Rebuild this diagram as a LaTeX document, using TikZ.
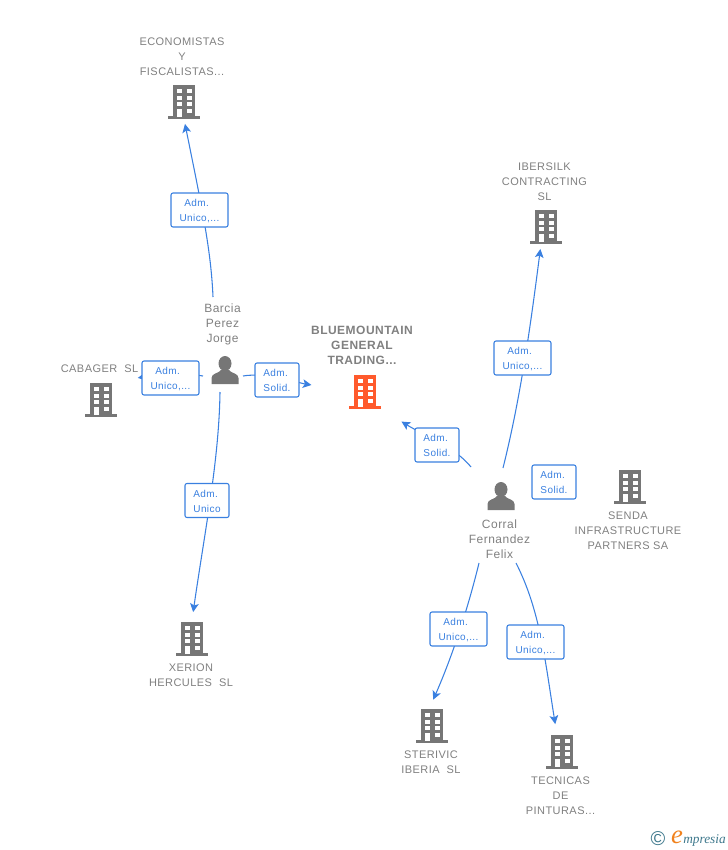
\documentclass[tikz,border=0pt]{standalone}
\usepackage{fontspec}
\setmainfont{Liberation Sans}
\newfontfamily\spacedfont[LetterSpace=4]{Liberation Sans}
\newfontfamily\logofont{Liberation Serif}
\usetikzlibrary{arrows.meta}
\definecolor{linkblue}{RGB}{58,128,224}
\definecolor{txtgray}{RGB}{128,128,128}
\definecolor{icongray}{RGB}{118,118,118}
\definecolor{iconorange}{RGB}{255,90,44}
\definecolor{logoteal}{RGB}{62,120,140}
\definecolor{logoorange}{RGB}{240,130,30}

% inside a path picture y points up again
\newcommand{\buildingicon}[1]{%
    \begin{scope}[shift={(path picture bounding box.center)}]
    \fill [#1] (-11,16) rectangle (11,-16);
    \fill [#1] (-16,-15) rectangle (16,-18);
    \foreach \wy in {11.7,5.3,-1.3} {
        \fill [white] (-7.3,\wy) rectangle (-1.7,\wy-4);
        \fill [white] (2.7,\wy) rectangle (7.7,\wy-4);
    }
    \fill [white] (2.7,-7.7) rectangle (7.7,-11.7);
    \fill [white] (-7.3,-7.7) rectangle (-1.7,-16);
    \end{scope}
}
\newcommand{\personicon}{%
    \begin{scope}[shift={(path picture bounding box.center)}]
    \fill [icongray] (0,6.5) ellipse (6.5 and 7.5);
    \fill [icongray] (-13.5,-14) -- (-13.5,-8) .. controls (-13.5,-3) and (-6,-3.5) .. (-4,0) -- (4,0) .. controls (6,-3.5) and (13.5,-3) .. (13.5,-8) -- (13.5,-14) -- cycle;
    \end{scope}
}
\newcommand{\admtxt}{\rule{0pt}{6.8pt}Adm.\hphantom{.}}
\newcommand{\admwide}{\rule{0pt}{6.8pt}Adm.\hphantom{..}}

\tikzset{
    building/.style={minimum width=32*0.75pt, minimum height=36*0.75pt, inner sep=0pt, outer sep=0pt, path picture={\buildingicon{icongray}}},
    mainbuilding/.style={building, path picture={\buildingicon{iconorange}}},
    person/.style={minimum width=28*0.75pt, minimum height=30*0.75pt, inner sep=0pt, outer sep=0pt, path picture={\personicon}},
    companytxt/.style={text=txtgray, align=center, inner sep=0pt, font=\fontsize{8.25}{11.25}\selectfont\spacedfont},
    persontxt/.style={text=txtgray, align=center, inner sep=0pt, font=\fontsize{9}{11.25}\selectfont\spacedfont},
    maintxt/.style={text=txtgray, align=center, inner sep=0pt, font=\fontsize{9}{11.25}\selectfont\spacedfont\bfseries},
    rolebox/.style={draw=linkblue, fill=white, rounded corners=1.5pt, line width=0.8pt, text=linkblue, align=center, inner sep=0pt, minimum width=44*0.75pt, minimum height=34*0.75pt, font=\fontsize{7.5}{11.25}\selectfont\spacedfont},
    widerolebox/.style={rolebox, minimum width=57*0.75pt},
    link/.style={draw=linkblue, line width=0.8pt, -{Stealth[length=6.5pt, width=6.5pt, inset=1.5pt]}},
}

\begin{document}
\begin{tikzpicture}[x=0.75pt,y=0.75pt,yscale=-1,xscale=1]
    \useasboundingbox (0,0) rectangle (728,850);

    % Buildings and people
    \node [building] (economistas) at (184,101) {};
    \node [building] (cabager) at (101,399) {};
    \node [mainbuilding] (bluemountain) at (365,391) {};
    \node [building] (ibersilk) at (546,226) {};
    \node [building] (senda) at (630,486) {};
    \node [building] (xerion) at (192,638) {};
    \node [building] (sterivic) at (432,725) {};
    \node [building] (tecnicas) at (562,751) {};
    \node [person] (barcia) at (225,370) {};
    \node [person] (corral) at (501,496) {};

    % Free ends near the people
    \coordinate (barciaN) at (213,297);
    \coordinate (barciaW) at (203,376);
    \coordinate (barciaE) at (243,376);
    \coordinate (barciaS) at (220,392);
    \coordinate (corralNW) at (471,467);
    \coordinate (corralN) at (503,468);
    \coordinate (corralSW) at (479,563);
    \coordinate (corralSE) at (516,563);

    % Texts
    \node [companytxt] (economistastxt) at (182,57) {ECONOMISTAS\\Y\\FISCALISTAS...};
    \node [companytxt] (cabagertxt) at (99.5,369) {CABAGER\ \ SL};
    \node [maintxt] (bluemountaintxt) at (362,345) {BLUEMOUNTAIN\\GENERAL\\TRADING...};
    \node [companytxt] (ibersilktxt) at (544.5,182) {IBERSILK\\CONTRACTING\\SL};
    \node [companytxt] (sendatxt) at (628,531) {SENDA\\INFRASTRUCTURE\\PARTNERS SA};
    \node [companytxt] (xeriontxt) at (191,675.5) {XERION\\HERCULES\ \ SL};
    \node [companytxt] (sterivictxt) at (431,762.5) {STERIVIC\\IBERIA\ \ SL};
    \node [companytxt] (tecnicastxt) at (560.5,796) {TECNICAS\\DE\\PINTURAS...};
    \node [persontxt] (barciatxt) at (222.5,324) {Barcia\\Perez\\Jorge};
    \node [persontxt] (corraltxt) at (499.5,539.5) {Corral\\Fernandez\\Felix};

    % Connectors
    \draw [link, shorten >=5*0.75pt] (barciaN) .. controls (211,250) and (202,208) .. (economistas.south);
    \draw [link, shorten >=21*0.75pt] (barciaW) .. controls (180,372) and (150,376) .. (cabager.north east);
    \draw [link, shorten >=38*0.75pt] (barciaE) .. controls (265,372) and (299,383) .. (bluemountain.west);
    \draw [link, shorten >=8*0.75pt] (barciaS) .. controls (219,460) and (205,530) .. (xerion.north);
    \draw [link, shorten >=24*0.75pt] (corralNW) .. controls (455,447) and (425,436) .. (bluemountain.south east);
    \draw [link, shorten >=5*0.75pt] (corralN) .. controls (520,400) and (530,330) .. ([xshift=-3.75pt]ibersilk.south);
    \draw [link, shorten >=8*0.75pt] (corralSW) .. controls (470,600) and (455,650) .. ([xshift=-1.5pt]sterivic.north);
    \draw [link, shorten >=9*0.75pt] (corralSE) .. controls (540,610) and (545,660) .. ([xshift=-4pt]tecnicas.north);

    % Role labels
    \node [widerolebox] (lblecon) at (199.5,210) {\admwide\\Unico,...};
    \node [widerolebox] (lblcab) at (170.5,378) {\admwide\\Unico,...};
    \node [rolebox] (lblblue) at (277,380) {\admtxt\\Solid.};
    \node [rolebox] (lblxer) at (207,500.5) {\admtxt\\Unico};
    \node [rolebox] (lblcorr) at (437,445) {\admtxt\\Solid.};
    \node [widerolebox] (lblibe) at (522.5,358) {\admwide\\Unico,...};
    \node [rolebox] (lblsen) at (554,482) {\admtxt\\Solid.};
    \node [widerolebox] (lblste) at (458.5,629) {\admwide\\Unico,...};
    \node [widerolebox] (lbltec) at (535.5,642) {\admwide\\Unico,...};

    % Logo
    \node [text=logoteal, inner sep=0pt, font=\fontsize{15}{15}\selectfont] (logoc) at (658,839) {©};
    \node [text=logoorange, inner sep=0pt, font=\fontsize{20}{20}\selectfont\logofont\itshape] (logoe) at (677,837) {e};
    \node [text=logoteal, inner sep=0pt, anchor=west, font=\fontsize{10}{10}\selectfont\logofont\itshape] (logotxt) at (683,840) {mpresia};
\end{tikzpicture}
\end{document}
